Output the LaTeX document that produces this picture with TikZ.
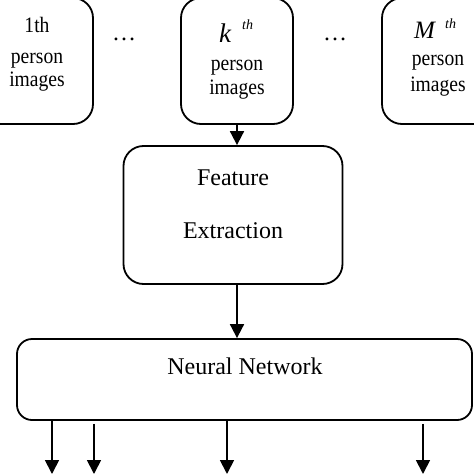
\documentclass[tikz,border=0pt]{standalone}
\usepackage{fontspec}
\setmainfont{Liberation Serif}
\usetikzlibrary{arrows.meta}
\newcommand{\narrow}[1]{\scalebox{0.89}[1]{#1}}
\begin{document}
\begin{tikzpicture}[x=1pt,y=-1pt,
 box/.style={draw,line width=1.8pt,rounded corners=20pt,inner sep=0pt},
 lbl/.style={font=\fontsize{22}{25}\selectfont,anchor=base,inner sep=0pt},
 big/.style={font=\fontsize{24}{28}\selectfont,anchor=base,inner sep=0pt},
 ord/.style={font=\fontsize{27}{30}\selectfont,anchor=base west,inner sep=0pt},
 sup/.style={font=\fontsize{14}{16}\selectfont\itshape,anchor=base west,inner sep=0pt},
 arr/.style={line width=1.8pt,-{Triangle[length=14pt,width=14pt]}}]
\useasboundingbox (0,0) rectangle (474,474);
\clip (0,0) rectangle (474,474);
% top boxes
\node[box,minimum width=112pt,minimum height=126pt] (b1) at (37,61) {};
\node[box,minimum width=112pt,minimum height=126pt] (bk) at (237,61) {};
\node[box,minimum width=112pt,minimum height=126pt] (bm) at (438,61) {};
\node[lbl] (t1a) at (37,32) {\narrow{1th}};
\node[lbl] (t1b) at (37,63) {\narrow{person}};
\node[lbl] (t1c) at (37,86) {\narrow{images}};
\node[ord] (tka) at (219,42) {\textit{k}};
\node[sup] (tks) at (242,29) {th};
\node[lbl] (tkb) at (237,70) {\narrow{person}};
\node[lbl] (tkc) at (237,94) {\narrow{images}};
\node[ord,font=\fontsize{25}{28}\selectfont] (tma) at (414,38) {\textit{M}};
\node[sup] (tms) at (445,28) {th};
\node[lbl] (tmb) at (438,65) {\narrow{person}};
\node[lbl] (tmc) at (438,91) {\narrow{images}};
\node[big] (d1) at (124,40) {\dots};
\node[big] (d2) at (335,40) {\dots};
% feature extraction
\node[box,minimum width=219pt,minimum height=138pt] (fe) at (233,215) {};
\node[big] (fea) at (233,185) {Feature};
\node[big] (feb) at (233,238) {Extraction};
% neural network
\node[box,rounded corners=15pt,minimum width=455pt,minimum height=81pt] (nn) at (244.5,379.5) {};
\node[big] (nnt) at (245,374) {Neural Network};
% arrows
\draw[arr] (bk.south) -- (bk.south |- fe.north);
\draw[arr] (fe.south -| bk.south) -- (bk.south |- nn.north);
\coordinate (o1) at (52,474);
\coordinate (o2) at (94,474);
\coordinate (o3) at (227,474);
\coordinate (o4) at (423,474);
\draw[arr] (nn.south -| o1) -- (o1);
\draw[arr] ([yshift=-3pt]nn.south -| o2) -- (o2);
\draw[arr] (nn.south -| o3) -- (o3);
\draw[arr] ([yshift=-3pt]nn.south -| o4) -- (o4);
\end{tikzpicture}
\end{document}
